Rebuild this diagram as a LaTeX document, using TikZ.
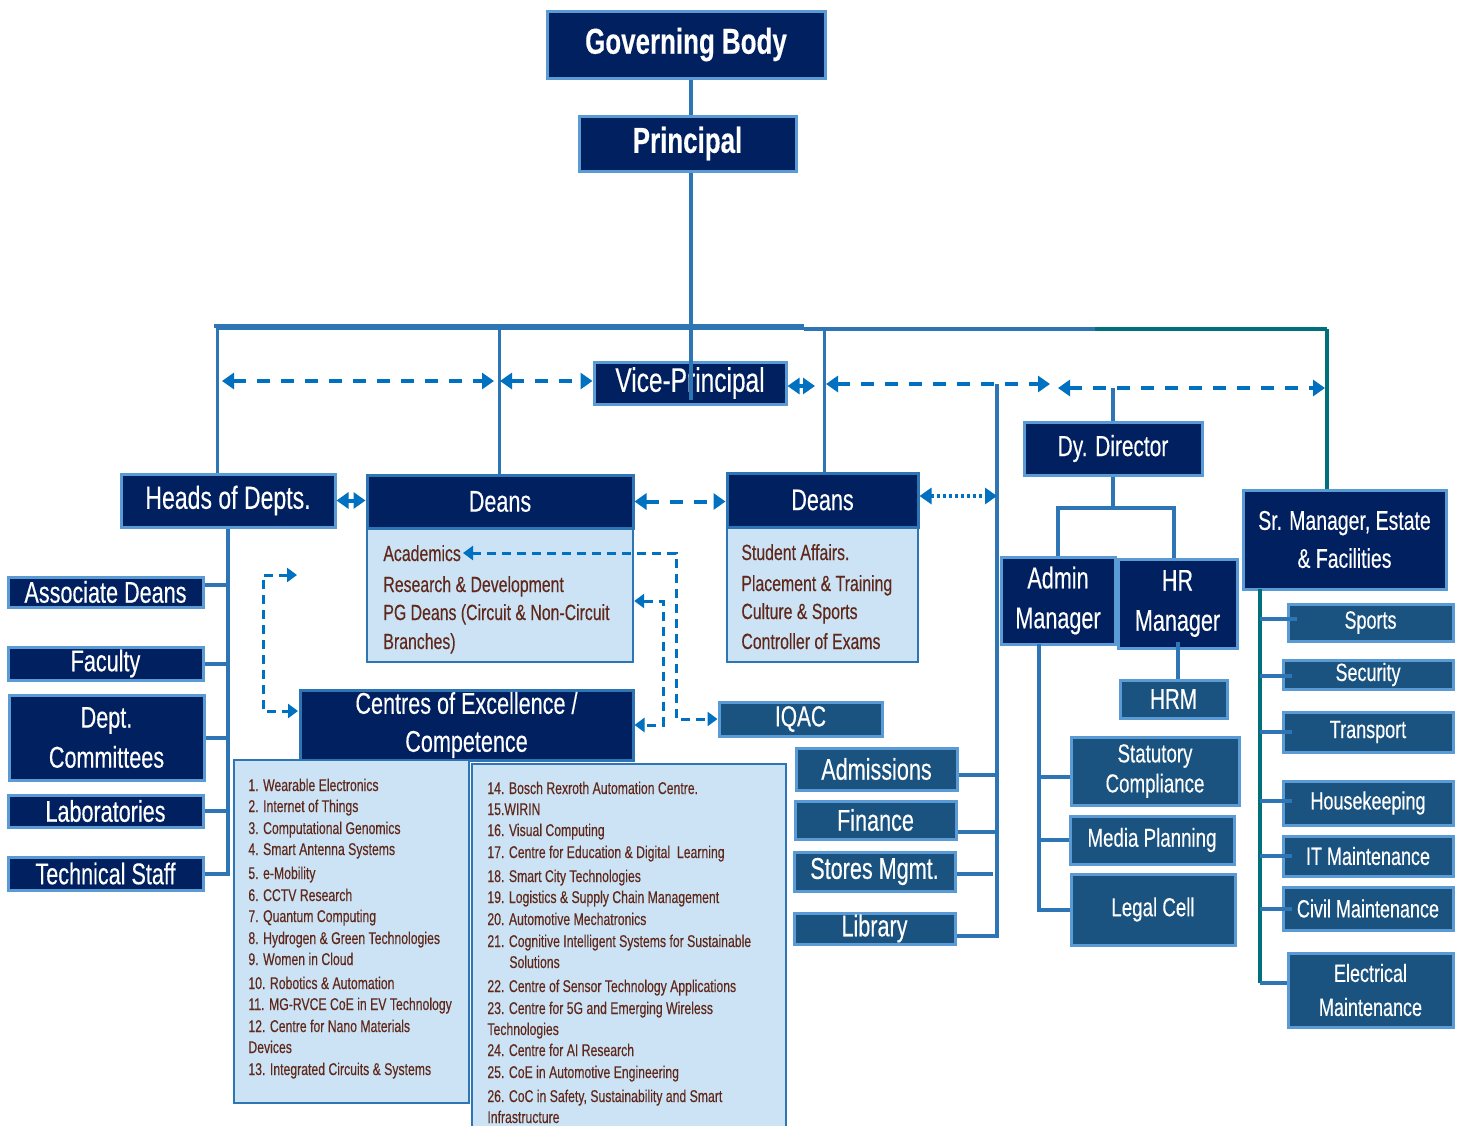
\documentclass[tikz,border=0pt]{standalone}
\usepackage{fontspec}
\setmainfont{Liberation Sans}[FakeStretch=0.72, FakeBold=0.3]
\usetikzlibrary{arrows.meta,calc}
\definecolor{navy}{RGB}{0,32,96}
\definecolor{bordlight}{RGB}{91,155,213}
\definecolor{midblue}{RGB}{26,82,128}
\definecolor{linkblue}{RGB}{46,117,182}
\definecolor{arrowblue}{RGB}{0,112,192}
\definecolor{lightfill}{RGB}{204,227,245}
\definecolor{tealc}{RGB}{0,112,122}
\definecolor{browntext}{RGB}{96,40,26}
\tikzset{
  boxat/.style args={#1,#2,#3,#4}{minimum width={(#3-#1)*0.5pt}, minimum height={(#4-#2)*0.5pt},
     at={({(#1+#3)/2},{(#2+#4)/2})}},
  basebox/.style={inner sep=0pt, align=center, line width=1.5pt},
  navybox/.style={basebox, draw=bordlight, fill=navy, text=white},
  headbox/.style={basebox, draw=linkblue, fill=navy, text=white},
  midbox/.style={basebox, draw=bordlight, fill=midblue, text=white},
  bodybox/.style={inner sep=0pt, draw=linkblue, line width=1.2pt, fill=lightfill},
  listtext/.style={inner sep=0pt, anchor=base west, text=browntext, font=\fontsize{8.5}{10}\selectfont},
  bodytext/.style={inner sep=0pt, anchor=base west, text=browntext, font=\fontsize{11}{13}\selectfont},
  ftop/.style={font=\bfseries\fontsize{18}{20}\selectfont},
  fbig/.style={font=\fontsize{16}{20}\selectfont},
  fmed/.style={font=\fontsize{15}{20}\selectfont},
  fsm/.style={font=\fontsize{13}{15}\selectfont},
  fxs/.style={font=\fontsize{12.5}{17}\selectfont},
  conn/.style={draw=linkblue, line width=2pt},
  thinconn/.style={draw=linkblue, line width=1.5pt},
  tealconn/.style={draw=tealc, line width=1.8pt},
  dasharr/.style={draw=arrowblue, line width=2pt, dash pattern=on 6.5pt off 5.5pt,
     {Triangle[length=6pt,width=8pt]}-{Triangle[length=6pt,width=8pt]}},
  dotarr/.style={draw=arrowblue, line width=2pt, dash pattern=on 1.5pt off 1.5pt,
     {Triangle[length=6pt,width=8pt]}-{Triangle[length=6pt,width=8pt]}},
  brackarr/.style={draw=arrowblue, line width=1.5pt, dash pattern=on 4.5pt off 3pt,
     {Triangle[length=5pt,width=7pt]}-{Triangle[length=5pt,width=7pt]}},
}
\begin{document}
\begin{tikzpicture}[x=0.5pt,y=-0.5pt]
\useasboundingbox (0,0) rectangle (1460,1125);
\fill[white] (0,0) rectangle (1460,1125);

% ---------- top ----------
\node[navybox, ftop, boxat={547,11,825,78}] (gb) {Governing Body};
\node[navybox, ftop, boxat={579,116,796,171}] (pr) {Principal};
\node[navybox, font=\fontsize{17}{20}\selectfont, boxat={594,362,786,404}] (vp) {Vice-Principal};

% ---------- left column ----------
\node[navybox, fbig, boxat={121,474,335,527}] (hod) {Heads of Depts.};
\node[navybox, fmed, boxat={8,577,203,607}] (ad) {Associate Deans};
\node[navybox, fmed, boxat={8,647,203,680}] (fac) {Faculty};
\node[navybox, fmed, boxat={9,695,204,780}] (dc) {Dept.\\Committees};
\node[navybox, fmed, boxat={8,795,203,827}] (lab) {Laboratories};
\node[navybox, fmed, boxat={8,857,203,890}] (ts) {Technical Staff};

% ---------- Deans ----------
\node[bodybox, boxat={367,528,633,662}] (deansAb) {};
\node[headbox, fmed, boxat={367,475,633,528}] (deansA) {Deans};
\node[bodytext] (dA1) at (383,561) {Academics};
\node[bodytext] (dA2) at (383,592) {Research \& Development};
\node[bodytext] (dA3) at (383,620) {PG Deans (Circuit \& Non-Circuit};
\node[bodytext] (dA4) at (383,649) {Branches)};

\node[bodybox, boxat={727,527,918,662}] (deansBb) {};
\node[headbox, fmed, boxat={727,473,918,527}] (deansB) {Deans};
\node[bodytext] (dB1) at (741,560) {Student Affairs.};
\node[bodytext] (dB2) at (741,591) {Placement \& Training};
\node[bodytext] (dB3) at (741,619) {Culture \& Sports};
\node[bodytext] (dB4) at (741,649) {Controller of Exams};

% ---------- Centres ----------
\node[headbox, font=\fontsize{15}{19}\selectfont, boxat={300,690,633,760}] (coe) {Centres of Excellence /\\Competence};
\node[bodybox, boxat={234,760,469,1103}] (listL) {};
\node[bodybox, boxat={472,764,786,1132}] (listR) {};

\foreach \x/\y/\t [count=\i] in {
  248/785/{1. Wearable Electronics},
  248/806/{2. Internet of Things},
  248/828/{3. Computational Genomics},
  248/849/{4. Smart Antenna Systems},
  248/873/{5. e-Mobility},
  248/895/{6. CCTV Research},
  248/916/{7. Quantum Computing},
  248/938/{8. Hydrogen \& Green Technologies},
  248/959/{9. Women in Cloud},
  248/983/{10. Robotics \& Automation},
  248/1004/{11. MG-RVCE CoE in EV Technology},
  248/1026/{12. Centre for Nano Materials},
  248/1047/{Devices},
  248/1069/{13. Integrated Circuits \& Systems}}
  \node[listtext] (lL\i) at (\x,\y+6) {\t};

\foreach \x/\y/\t [count=\i] in {
  487/788/{14. Bosch Rexroth Automation Centre.},
  487/809/{15.WIRIN},
  487/830/{16. Visual Computing},
  487/852/{17. Centre for Education \& Digital\ \ Learning},
  487/876/{18. Smart City Technologies},
  487/897/{19. Logistics \& Supply Chain Management},
  487/919/{20. Automotive Mechatronics},
  487/941/{21. Cognitive Intelligent Systems for Sustainable},
  509/962/{Solutions},
  487/986/{22. Centre of Sensor Technology Applications},
  487/1008/{23. Centre for 5G and Emerging Wireless},
  487/1029/{Technologies},
  487/1050/{24. Centre for AI Research},
  487/1072/{25. CoE in Automotive Engineering},
  487/1096/{26. CoC in Safety, Sustainability and Smart},
  487/1117/{Infrastructure}}
  \node[listtext] (lR\i) at (\x,\y+6) {\t};

% ---------- middle-right ----------
\node[midbox, font=\fontsize{14.5}{17}\selectfont, boxat={719,702,882,736}] (iqac) {IQAC};
\node[midbox, fmed, boxat={796,748,957,790}] (adm) {Admissions};
\node[midbox, fmed, boxat={795,801,956,839}] (fin) {Finance};
\node[midbox, fmed, boxat={794,852,955,891}] (sto) {Stores Mgmt.};
\node[midbox, fmed, boxat={794,913,955,944}] (lib) {Library};

\node[navybox, font=\fontsize{14.5}{17}\selectfont, boxat={1024,422,1202,475}] (dyd) {Dy. Director};
\node[navybox, fmed, boxat={1001,557,1115,644}] (am) {Admin\\Manager};
\node[navybox, fmed, boxat={1118,559,1237,648}] (hrmgr) {HR\\Manager};
\node[midbox, font=\fontsize{14.3}{17}\selectfont, boxat={1120,680,1227,718}] (hrm) {HRM};
\node[midbox, fsm, boxat={1071,737,1239,805}] (sc) {Statutory\\Compliance};
\node[midbox, fsm, boxat={1070,816,1234,864}] (mp) {Media Planning};
\node[midbox, fsm, boxat={1071,874,1235,945}] (lc) {Legal Cell};

% ---------- right column ----------
\node[navybox, font=\fontsize{13.5}{19}\selectfont, boxat={1243,490,1446,589}] (srm) {Sr. Manager, Estate\\\& Facilities};
\node[midbox, fxs, boxat={1288,604,1453,641}] (sp) {Sports};
\node[midbox, fxs, boxat={1283,660,1453,689}] (sec) {Security};
\node[midbox, fxs, boxat={1283,712,1453,752}] (tr) {Transport};
\node[midbox, fxs, boxat={1283,781,1453,825}] (hk) {Housekeeping};
\node[midbox, fxs, boxat={1283,836,1453,876}] (itm) {IT Maintenance};
\node[midbox, fxs, boxat={1283,887,1453,930}] (cm) {Civil Maintenance};
\node[midbox, fxs, boxat={1288,953,1453,1027}] (em) {Electrical\\Maintenance};

% ---------- coordinates ----------
\coordinate (cx) at (691,328);
\coordinate (barL) at (217,328);
\coordinate (barM1) at (804,327);
\coordinate (barM2) at (1095,329);
\coordinate (barR) at (1327,329);
\coordinate (cDA) at (499,328);
\coordinate (cDB) at (824,328);
\coordinate (d1) at (222,381);
\coordinate (d2) at (494,381);
\coordinate (d3) at (500,381);
\coordinate (d5) at (815,386);
\coordinate (d6) at (826,384);
\coordinate (d7) at (1050,384);
\coordinate (d8) at (1058,388);
\coordinate (d9) at (1325,388);
\coordinate (vAdm) at (997,384);
\coordinate (jDy) at (1114,508);
\coordinate (vAm) at (1039,644);
\coordinate (vS) at (1260,589);
\coordinate (acad) at (463,553);
\coordinate (kA) at (676,553);
\coordinate (kB) at (663,601);
\coordinate (kC) at (263,575);
\coordinate (kCe) at (297,575);
\coordinate (kD) at (298,711);

% ---------- solid connectors ----------
\draw[conn] (gb.south -| cx) -- (pr.north -| cx);
\draw[conn] (pr.south -| cx) -- ([yshift=3pt]cx |- vp.south);
\draw[linkblue, line width=3pt] (barL) -- (barM1 -| barL) -- (barM1);
\draw[linkblue, line width=2.2pt] (barM1) -- (barM2 -| barM1);
\draw[linkblue, line width=2.2pt] (barM1 |- barM2) -- (barM2);
\draw[tealc, line width=2.2pt] (barM2) -- (barR);
\draw[thinconn] (barL) -- (barL |- hod.north);
\draw[thinconn] (cDA) -- (cDA |- deansA.north);
\draw[thinconn] (cDB) -- (cDB |- deansB.north);
\draw[tealconn] (barR) -- (barR |- srm.north);

\draw[conn] (hod.south) -- (hod.south |- ts.east) -- (ts.east);
\draw[conn] ([yshift=3.5pt]ad.east) -- ([yshift=3.5pt]hod.south |- ad.east);
\draw[conn] (fac.east) -- (fac.east -| hod.south);
\draw[conn] (dc.east) -- (dc.east -| hod.south);
\draw[conn] (lab.east) -- (lab.east -| hod.south);

\draw[conn] (vAdm) -- ([yshift=-3.5pt]vAdm |- lib.east) -- ([yshift=-3.5pt]lib.east);
\draw[conn] ([yshift=-3pt]adm.east) -- ([yshift=-3pt]adm.east -| vAdm);
\draw[conn] ([yshift=-6pt]fin.east) -- ([yshift=-6pt]fin.east -| vAdm);
\draw[conn] ([yshift=-1pt]sto.east) -- ([yshift=-1pt,xshift=-2pt]sto.east -| vAdm);

\draw[conn] (dyd.north) -- (dyd.north |- d8);
\draw[conn] (dyd.south) -- (dyd.south |- jDy);
\draw[conn] (am.north) -- (am.north |- jDy) -- ([xshift=-2pt]hrmgr.north |- jDy) -- ([xshift=-2pt]hrmgr.north);
\draw[conn] ([xshift=2pt]hrm.north) -- ([xshift=2pt,yshift=4pt]hrm.north |- hrmgr.south);

\draw[conn] (vAm) -- (vAm |- lc.west) -- (lc.west);
\draw[conn] ([yshift=-3pt]sc.west) -- ([yshift=-3pt]sc.west -| vAm);
\draw[conn] (mp.west) -- (mp.west -| vAm);

\draw[tealconn] (vS) -- ([yshift=3.5pt]vS |- em.west);
\draw[conn] ([yshift=3.5pt]vS |- em.west) -- ([yshift=3.5pt]em.west);
\foreach \n/\s in {sp/2, sec/-0.5, tr/0, hk/1, itm/0, cm/0}
  \draw[conn] ([yshift=\s pt]vS |- \n.west) -- ([yshift=\s pt,xshift=5pt]\n.west);

% ---------- dashed arrows ----------
\draw[dasharr] (d1) -- (d2);
\draw[dasharr] (d3) -- (d3 -| vp.west);
\draw[dasharr] (vp.east |- d5) -- (d5);
\draw[dasharr] (d6) -- (d7);
\draw[dasharr] (d8) -- (d9);
\draw[dasharr] (hod.east) -- (hod.east -| deansA.west);
\draw[dasharr] (deansA.east) -- (deansA.east -| deansB.west);
\draw[dotarr] ([yshift=2pt]deansB.east) -- ([yshift=2pt]deansB.east -| vAdm);

\draw[brackarr] (acad) -- (kA) -- (kA |- iqac.west) -- (iqac.west);
\draw[brackarr] (kB -| deansAb.east) -- (kB) -- (kB |- coe.east) -- (coe.east);
\draw[brackarr] (kCe) -- (kC) -- (kC |- kD) -- (kD);
\end{tikzpicture}
\end{document}
